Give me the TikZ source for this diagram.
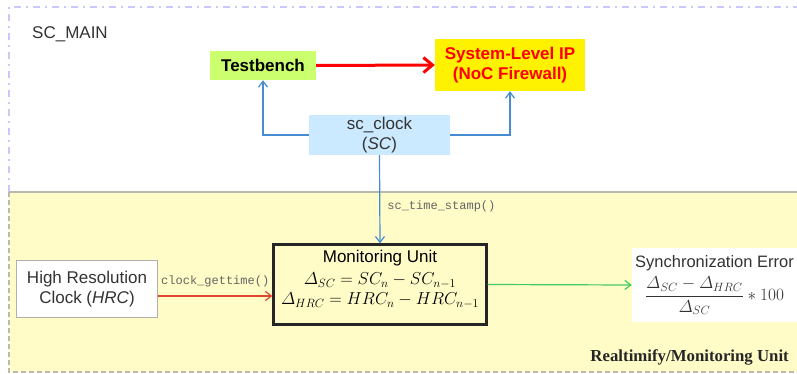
\documentclass[tikz,border=0pt]{standalone}
\usepackage{amsmath}
\usepackage{fontspec}
\setmainfont{Liberation Sans}
\newfontfamily\monofont{Liberation Mono}
\newfontfamily\serifbold{Liberation Serif}
\usetikzlibrary{arrows.meta}
\definecolor{framelav}{RGB}{200,200,250}
\definecolor{zonefill}{RGB}{255,252,200}
\definecolor{zonegray}{RGB}{185,185,175}
\definecolor{tbgreen}{RGB}{204,255,110}
\definecolor{clkblue}{RGB}{204,234,255}
\definecolor{arrblue}{RGB}{70,140,210}
\definecolor{hrcred}{RGB}{225,70,50}
\definecolor{syncgreen}{RGB}{70,200,100}
\definecolor{labgray}{RGB}{100,100,100}
\definecolor{boxgray}{RGB}{175,175,175}
\tikzset{
  txt/.style={font=\fontsize{17}{20}\selectfont, align=center, inner sep=0pt},
  tbbox/.style={txt, fill=tbgreen, font=\fontsize{17}{20}\selectfont\bfseries, minimum width=106pt, minimum height=29pt},
  ipbox/.style={txt, fill=yellow, text=red, font=\fontsize{17}{20}\selectfont\bfseries, minimum width=150pt, minimum height=52pt},
  clkbox/.style={txt, fill=clkblue, text=black!80, minimum width=141pt, minimum height=40pt},
  mubox/.style={txt, fill=zonefill, draw=black!85, line width=2.2pt, minimum width=213pt, minimum height=80pt},
  hrcbox/.style={txt, fill=white, draw=boxgray, line width=1.2pt, text=black!80, minimum width=141pt, minimum height=57pt},
  syncbox/.style={txt, fill=white, text=black!80, minimum width=165pt, minimum height=74pt},
  codelab/.style={font=\monofont\fontsize{12}{14}\selectfont, text=labgray, inner sep=0pt},
  bluearrow/.style={draw=arrblue, line width=1.2pt, -{Straight Barb[length=6pt,width=9pt]}},
  redarrow/.style={draw=red, line width=3pt, -{Straight Barb[length=9pt,width=15pt]}},
  hrcarrow/.style={draw=hrcred, line width=1.2pt, -{Straight Barb[length=6pt,width=9pt]}},
  greenarrow/.style={draw=syncgreen, line width=1.2pt, -{Straight Barb[length=6pt,width=9pt]}},
}
\begin{document}
\begin{tikzpicture}[x=1pt,y=-1pt]
\useasboundingbox (0,0) rectangle (797,374);
% outer frame
\draw[framelav, line width=1.5pt, dash pattern=on 7pt off 5pt on 2pt off 5pt] (9,192) -- (9,7) -- (797,7);
% yellow zone
\fill[zonefill] (9,192) rectangle (797,372);
\draw[zonegray, line width=1.5pt] (9,192) -- (797,192);
\draw[zonegray, line width=1.3pt, dash pattern=on 5pt off 3pt] (9,192) -- (9,372) -- (797,372);
% labels
\node[txt, anchor=west, text=black!80] (scmain) at (32,34) {SC\_MAIN};
\node[anchor=east, inner sep=0pt, font=\serifbold\fontsize{16.8}{19}\selectfont\bfseries, text=black!85] (rtm) at (789,357) {Realtimify/Monitoring Unit};
% nodes
\node[tbbox] (tb) at (263,65.5) {Testbench};
\node[ipbox] (ip) at (510,65) {System-Level IP\\(NoC Firewall)};
\node[clkbox] (clk) at (379.5,135) {sc\_clock\\(\textit{SC})};
\node[mubox] (mu) at (380,284.5) {Monitoring Unit\\[2pt]
  $\varDelta_{SC}=SC_n-SC_{n-1}$\\
  $\varDelta_{HRC}=HRC_n-HRC_{n-1}$\\[-6pt]};
\node[hrcbox] (hrc) at (87,289) {High Resolution\\Clock (\textit{HRC})};
\node[syncbox] (sync) at (714.5,285) {\fontsize{16.5}{19}\selectfont Synchronization Error\\[5pt]
  $\dfrac{\varDelta_{SC}-\varDelta_{HRC}}{\varDelta_{SC}}\ast 100$};
% connectors
\draw[redarrow] (tb.east) -- (ip.west);
\draw[bluearrow] (clk.west) -| (tb.south);
\draw[bluearrow] (clk.east) -| (ip.south);
\draw[bluearrow] (clk.south) -- (mu.north) node[pos=0.58, right=7pt, codelab] (sts) {sc\_time\_stamp()};
\draw[hrcarrow] ([yshift=-7pt]hrc.east) -- ([yshift=-11.5pt]mu.west) node[midway, above=8pt, codelab] (cgt) {clock\_gettime()};
\draw[greenarrow] (mu.east) -- (sync.west);
\end{tikzpicture}
\end{document}
